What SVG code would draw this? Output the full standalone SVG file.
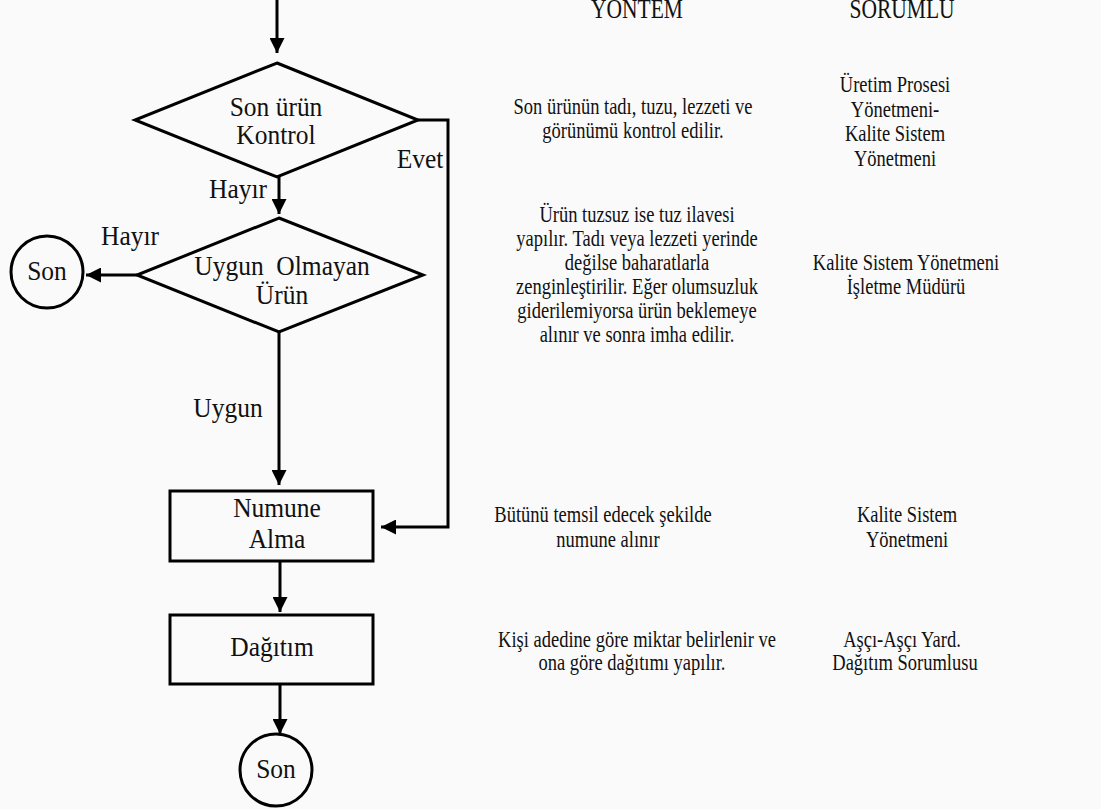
<svg xmlns="http://www.w3.org/2000/svg" width="1101" height="809" viewBox="0 0 1101 809">
  <style>
    .shape { fill: none; stroke: #000; stroke-width: 3; }
    .line { fill: none; stroke: #000; stroke-width: 3; }
    .lbl { font-family: "Liberation Serif", "Times New Roman", serif; font-size: 25.5px; fill: #111; text-anchor: middle; }
    .txt { font-family: "Liberation Serif", "Times New Roman", serif; font-size: 18.5px; fill: #111; text-anchor: middle; }
    .head { font-family: "Liberation Serif", "Times New Roman", serif; font-size: 21.5px; fill: #111; text-anchor: middle; }
  </style>
  <defs>
    <marker id="arrow" viewBox="0 0 10 10" refX="10" refY="5" markerWidth="5" markerHeight="5" markerUnits="strokeWidth" orient="auto">
      <path d="M0,0 L10,5 L0,10 Z" fill="#000"/>
    </marker>
  </defs>

  <rect x="0" y="0" width="1101" height="809" fill="#fafafa"/>

  <!-- connectors -->
  <g id="connectors">
    <line class="line" x1="277" y1="0" x2="277" y2="53" marker-end="url(#arrow)"/>
    <line class="line" x1="279" y1="177" x2="279" y2="214" marker-end="url(#arrow)"/>
    <line class="line" x1="137" y1="275" x2="86" y2="275" marker-end="url(#arrow)"/>
    <line class="line" x1="279" y1="332" x2="279" y2="485" marker-end="url(#arrow)"/>
    <polyline class="line" points="418,120 448,120 448,527 381,527" marker-end="url(#arrow)"/>
    <line class="line" x1="280" y1="561" x2="280" y2="612" marker-end="url(#arrow)"/>
    <line class="line" x1="280" y1="684" x2="280" y2="734" marker-end="url(#arrow)"/>
    <text class="lbl" transform="translate(238,198) scale(1,1.08)">Hayır</text>
    <text class="lbl" transform="translate(130,245) scale(1,1.08)">Hayır</text>
    <text class="lbl" transform="translate(420,168) scale(1,1.08)">Evet</text>
    <text class="lbl" transform="translate(228,417) scale(1,1.08)">Uygun</text>
  </g>

  <!-- flowchart nodes -->
  <g id="node-kontrol">
    <polygon class="shape" points="277,63 418,120 277,177 135,120"/>
    <text class="lbl" transform="translate(276,116) scale(1,1.08)">Son ürün</text>
    <text class="lbl" transform="translate(276,144) scale(1,1.08)">Kontrol</text>
  </g>
  <g id="node-uygun-olmayan">
    <polygon class="shape" points="279,218 423,275 279,332 137,275"/>
    <text class="lbl" transform="translate(282,275) scale(1,1.08)" style="white-space:pre">Uygun  Olmayan</text>
    <text class="lbl" transform="translate(282,304) scale(1,1.08)">Ürün</text>
  </g>
  <g id="node-son-1">
    <circle class="shape" cx="47" cy="272" r="36"/>
    <text class="lbl" transform="translate(47,280) scale(1,1.08)">Son</text>
  </g>
  <g id="node-numune">
    <rect class="shape" x="170" y="491" width="203" height="70"/>
    <text class="lbl" transform="translate(277,517) scale(1,1.08)">Numune</text>
    <text class="lbl" transform="translate(277,548) scale(1,1.08)">Alma</text>
  </g>
  <g id="node-dagitim">
    <rect class="shape" x="170" y="615" width="203" height="69"/>
    <text class="lbl" transform="translate(272,656) scale(1,1.08)">Dağıtım</text>
  </g>
  <g id="node-son-2">
    <circle class="shape" cx="276" cy="770" r="36"/>
    <text class="lbl" transform="translate(276,778) scale(1,1.08)">Son</text>
  </g>

  <!-- column headings -->
  <g id="headings">
    <text class="head" transform="translate(637,18) scale(1,1.25)">YÖNTEM</text>
    <text class="head" transform="translate(902,18) scale(1,1.25)">SORUMLU</text>
  </g>

  <!-- method / responsible descriptions -->
  <g id="row-kontrol">
    <text class="txt" transform="translate(633,114) scale(1,1.25)">Son ürünün tadı, tuzu, lezzeti ve</text>
    <text class="txt" transform="translate(633,138) scale(1,1.25)">görünümü kontrol edilir.</text>
    <text class="txt" transform="translate(895,92) scale(1,1.25)">Üretim Prosesi</text>
    <text class="txt" transform="translate(895,117) scale(1,1.25)">Yönetmeni-</text>
    <text class="txt" transform="translate(895,141) scale(1,1.25)">Kalite Sistem</text>
    <text class="txt" transform="translate(895,166) scale(1,1.25)">Yönetmeni</text>
  </g>
  <g id="row-uygun-olmayan">
    <text class="txt" transform="translate(637,222) scale(1,1.25)">Ürün tuzsuz ise tuz ilavesi</text>
    <text class="txt" transform="translate(637,246) scale(1,1.25)">yapılır. Tadı veya lezzeti yerinde</text>
    <text class="txt" transform="translate(637,270) scale(1,1.25)">değilse baharatlarla</text>
    <text class="txt" transform="translate(637,294) scale(1,1.25)">zenginleştirilir. Eğer olumsuzluk</text>
    <text class="txt" transform="translate(637,318) scale(1,1.25)">giderilemiyorsa ürün beklemeye</text>
    <text class="txt" transform="translate(637,342) scale(1,1.25)">alınır ve sonra imha edilir.</text>
    <text class="txt" transform="translate(906,270) scale(1,1.25)">Kalite Sistem Yönetmeni</text>
    <text class="txt" transform="translate(906,294) scale(1,1.25)">İşletme Müdürü</text>
  </g>
  <g id="row-numune">
    <text class="txt" transform="translate(603,522) scale(1,1.25)">Bütünü temsil edecek şekilde</text>
    <text class="txt" transform="translate(608,547) scale(1,1.25)">numune alınır</text>
    <text class="txt" transform="translate(907,522) scale(1,1.25)">Kalite Sistem</text>
    <text class="txt" transform="translate(907,547) scale(1,1.25)">Yönetmeni</text>
  </g>
  <g id="row-dagitim">
    <text class="txt" transform="translate(637,647) scale(1,1.25)">Kişi adedine göre miktar belirlenir ve</text>
    <text class="txt" transform="translate(632,670) scale(1,1.25)">ona göre dağıtımı yapılır.</text>
    <text class="txt" transform="translate(902,647) scale(1,1.25)">Aşçı-Aşçı Yard.</text>
    <text class="txt" transform="translate(905,670) scale(1,1.25)">Dağıtım Sorumlusu</text>
  </g>
</svg>
